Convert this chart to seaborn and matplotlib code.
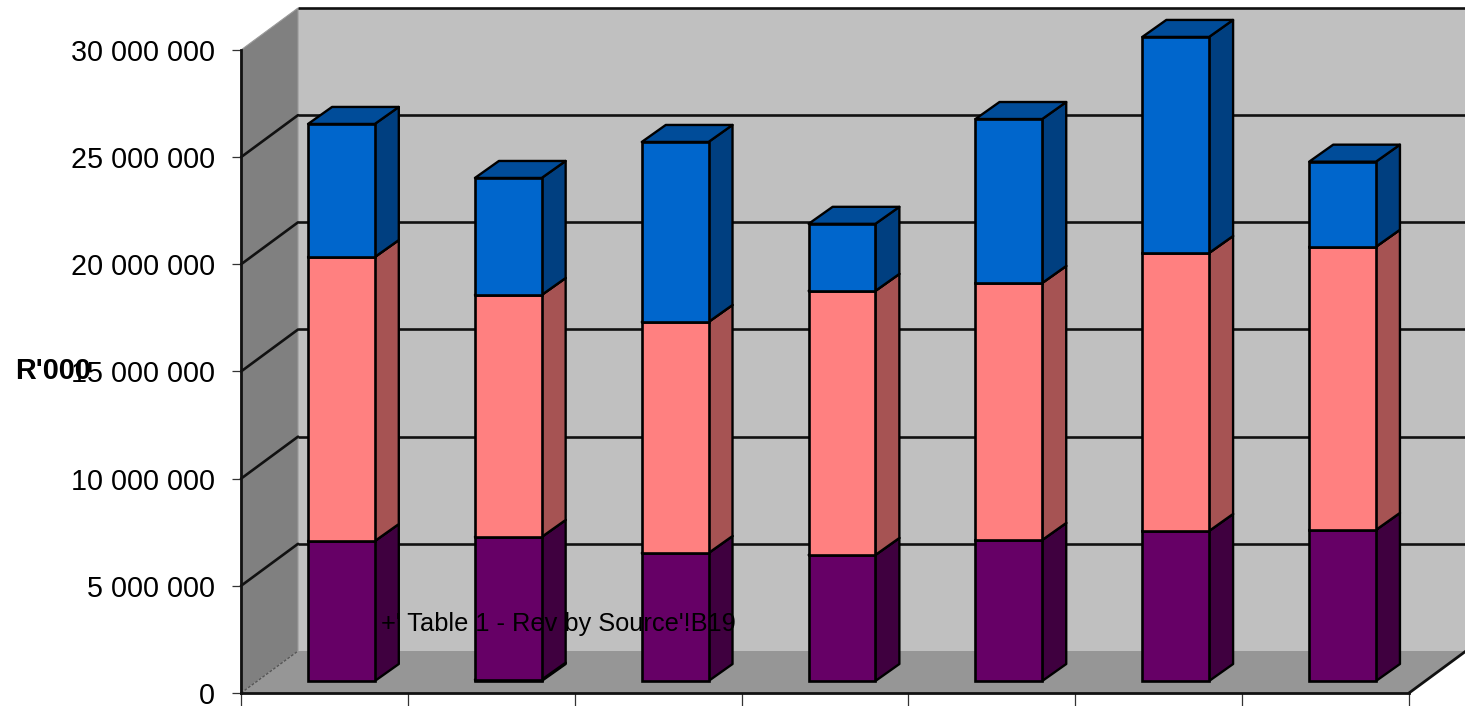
import matplotlib
matplotlib.use("Agg")
import matplotlib.pyplot as plt
import seaborn as sns
from matplotlib.patches import Polygon
from matplotlib.transforms import Affine2D

sns.set_theme(style="white")
plt.rcParams['font.family'] = ['Liberation Sans', 'DejaVu Sans']

# ---- data (in R'000) ----
periods = ["P1", "P2", "P3", "P4", "P5", "P6", "P7"]
sliver = [0, 60000, 0, 0, 0, 0, 0]
purple = [6530000, 6660000, 5970000, 5880000, 6580000, 7000000, 7050000]
pink = [13250000, 11290000, 10780000, 12320000, 11990000, 12970000, 13210000]
blue = [6210000, 5460000, 8400000, 3130000, 7650000, 10080000, 3970000]
y_ticks = [0, 5000000, 10000000, 15000000, 20000000, 25000000, 30000000]

series = [
    (sliver, "#000000", "#000000", "#000000"),
    (purple, "#660066", "#3F003F", "#4C004C"),
    (pink, "#FF8080", "#A65353", "#BF6060"),
    (blue, "#0066CC", "#003F80", "#004C99"),
]

# ---- projection geometry, in pixels ----
W, H = 1465, 706
LEFT, RIGHT, BOTTOM, TOP = 241, 1409, 693, 50
WALL_DX, WALL_DY = 57, 42      # depth of the back wall
BAR_DX, BAR_DY = 17, 12        # where the bar's front face sits
SIDE_DX, SIDE_DY = 24, 17      # depth of a bar
BAR_WIDTH = 0.4

fig = plt.figure(figsize=(W / 100, H / 100), dpi=100, facecolor="white")
ax = fig.add_axes([LEFT / W, (H - BOTTOM) / H, (RIGHT - LEFT) / W, (BOTTOM - TOP) / H])
ax.patch.set_visible(False)
ax.set_xlim(-0.5, 6.5)
ax.set_ylim(0, 30000000)

xmin, xmax = -0.5, 6.5
ymax = y_ticks[-1]
px_x = (RIGHT - LEFT) / (xmax - xmin)
px_y = (BOTTOM - TOP) / ymax
wx, wy = WALL_DX / px_x, WALL_DY / px_y
sx, sy = SIDE_DX / px_x, SIDE_DY / px_y

# walls and floor
ax.add_patch(Polygon([(xmin + wx, wy), (xmax + wx, wy), (xmax + wx, ymax + wy), (xmin + wx, ymax + wy)],
                     facecolor="#C0C0C0", edgecolor="none", clip_on=False, zorder=0.1))
ax.add_patch(Polygon([(xmin, 0), (xmin + wx, wy), (xmin + wx, ymax + wy), (xmin, ymax)],
                     facecolor="#808080", edgecolor="#9A9A9A", lw=0.8, clip_on=False, zorder=0.2))
ax.add_patch(Polygon([(xmin, 0), (xmax, 0), (xmax + wx, wy), (xmin + wx, wy)],
                     facecolor="#969696", edgecolor="none", clip_on=False, zorder=0.2))

# gridlines: along the left wall and across the back wall
for v in y_ticks[1:]:
    ax.plot([xmax + wx, xmin + wx], [v + wy, v + wy], color="#111111", lw=1.9,
            clip_on=False, zorder=0.5, solid_capstyle="butt")
    if v < ymax:
        ax.plot([xmin, xmin + wx], [v, v + wy], color="#111111", lw=1.9, clip_on=False, zorder=0.5)
ax.plot([xmin, xmin + wx], [0, wy], color="#555555", lw=1, ls=(0, (2, 1.2)), clip_on=False, zorder=0.5)
ax.plot([xmax, xmax + wx], [0, wy], color="#111111", lw=2, clip_on=False, zorder=0.5)

# stacked bars through seaborn, shifted to their place on the floor
bottoms = [0] * len(periods)
faces = []
for values, front, side, top in series:
    before = len(ax.patches)
    sns.barplot(x=periods, y=values, bottom=bottoms, order=periods, color=front, saturation=1,
                width=BAR_WIDTH, edgecolor="black", linewidth=1.9, ax=ax, zorder=3)
    for p in ax.patches[before:]:
        faces.append((p, side, top))
    bottoms = [b + v for b, v in zip(bottoms, values)]

ax.set_xlim(xmin, xmax)
ax.set_ylim(0, ymax)

offset = ax.transData + Affine2D().translate(BAR_DX, BAR_DY)
for p, side, top in faces:
    x0, y0, w, h = p.get_x(), p.get_y(), p.get_width(), p.get_height()
    if h == 0:
        p.set_visible(False)
        continue
    p.set_transform(offset)
    p.set_clip_on(False)
    ax.add_patch(Polygon([(x0 + w, y0), (x0 + w + sx, y0 + sy), (x0 + w + sx, y0 + h + sy), (x0 + w, y0 + h)],
                         facecolor=side, edgecolor="black", lw=1.7, transform=offset, clip_on=False,
                         joinstyle="round", zorder=2.5))
    ax.add_patch(Polygon([(x0, y0 + h), (x0 + w, y0 + h), (x0 + w + sx, y0 + h + sy), (x0 + sx, y0 + h + sy)],
                         facecolor=top, edgecolor="black", lw=1.7, transform=offset, clip_on=False,
                         joinstyle="round", zorder=2.5))

# axes
sns.despine(ax=ax, top=True, right=True)
for s in ("left", "bottom"):
    ax.spines[s].set_color("#111111")
    ax.spines[s].set_linewidth(2.0)
    ax.spines[s].set_zorder(1)
ax.set_xticks([i - 0.5 for i in range(len(periods) + 1)])
ax.set_xticklabels([""] * (len(periods) + 1))
ax.tick_params(axis="x", bottom=True, length=9.5, width=0.9, color="#333333", pad=0)
ax.set_yticks(y_ticks)
ax.set_yticklabels([f"{v:,}".replace(",", " ") for v in y_ticks])
ax.tick_params(axis="y", left=True, length=6.5, width=0.9, color="#333333", pad=12, labelsize=20.7, labelcolor="black")
ax.set_xlabel("")
ax.set_ylabel("R'000", rotation=0, fontsize=20.8, fontweight="bold", color="black", ha="center", va="center")
ax.yaxis.set_label_coords((53 - LEFT) / (RIGHT - LEFT), (BOTTOM - 371) / (BOTTOM - TOP))

ax.text((381 - LEFT) / (RIGHT - LEFT), 0.107, "+' Table 1 - Rev by Source'!B19", transform=ax.transAxes,
        fontsize=18.3, color="black", ha="left", va="center", zorder=10, clip_on=False)

fig.savefig("out.png", dpi=100, facecolor="white")
